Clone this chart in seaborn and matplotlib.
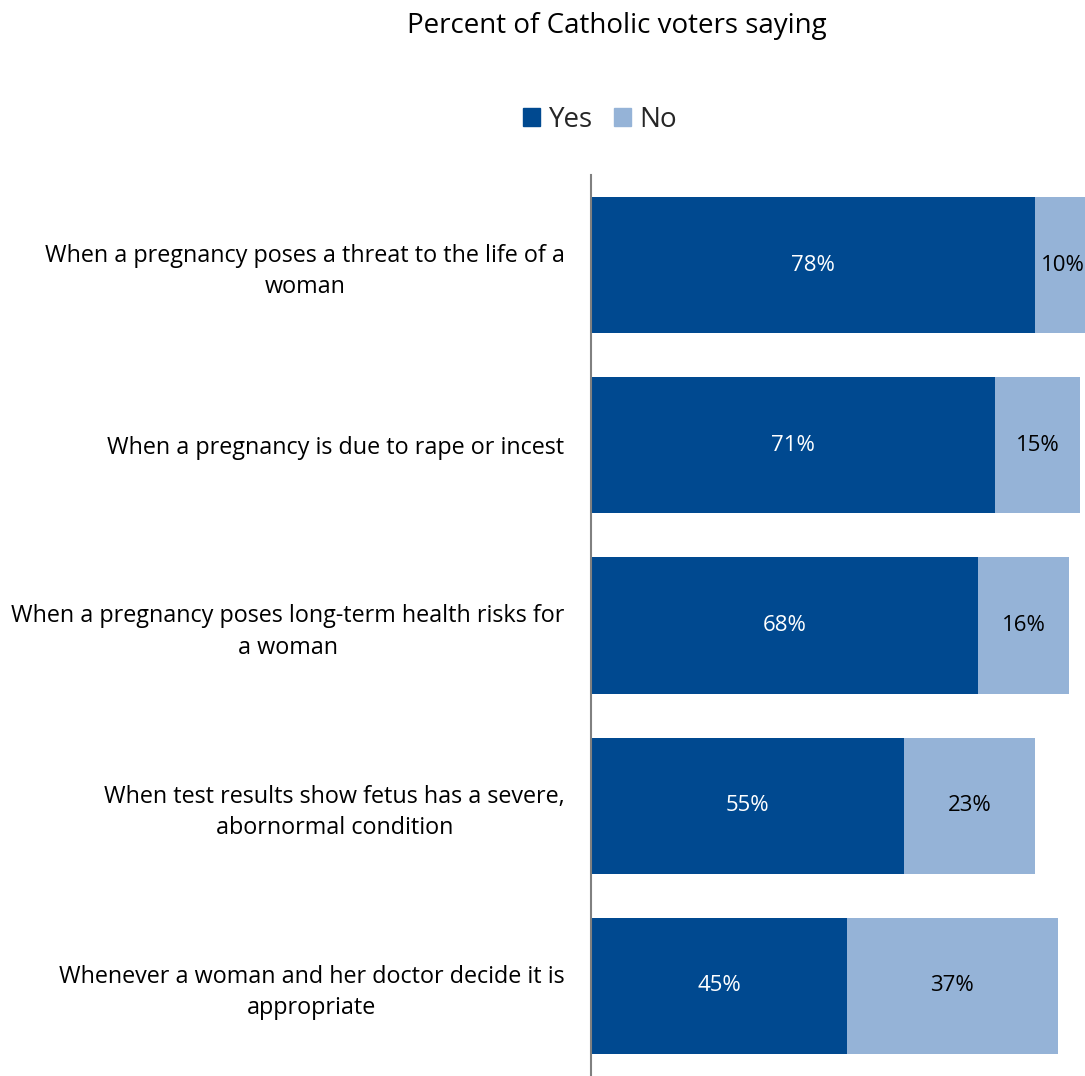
import matplotlib
matplotlib.use("Agg")
import matplotlib.pyplot as plt
import seaborn as sns
import pandas as pd
from matplotlib.patches import Patch

categories = [
    "When a pregnancy poses a threat to the life of a\nwoman",
    "When a pregnancy is due to rape or incest",
    "When a pregnancy poses long-term health risks for\na woman",
    "When test results show fetus has a severe,\nabornormal condition",
    "Whenever a woman and her doctor decide it is\nappropriate",
]
yes_vals = [78, 71, 68, 55, 45]
no_vals = [10, 15, 16, 23, 37]

df = pd.DataFrame({"cat": categories, "yes": yes_vals, "no": no_vals})
df["total"] = df["yes"] + df["no"]

YES_COLOR = "#004990"
NO_COLOR = "#95B3D7"

sns.set_style("white")
plt.rcParams["font.family"] = ["Open Sans", "DejaVu Sans"]

fig = plt.figure(figsize=(10.85, 10.76), dpi=100)
ax = fig.add_axes([591 / 1085, 0, 494 / 1085, 901 / 1076])

sns.barplot(data=df, x="total", y="cat", color=NO_COLOR, width=0.755,
            saturation=1, ax=ax, orient="h", linewidth=0)
sns.barplot(data=df, x="yes", y="cat", color=YES_COLOR, width=0.755,
            saturation=1, ax=ax, orient="h", linewidth=0)

for i, row in df.iterrows():
    ax.text(row["yes"] / 2, i, f"{row['yes']}%", ha="center", va="center",
            color="white", fontsize=16)
    ax.text(row["yes"] + row["no"] / 2, i, f"{row['no']}%", ha="center",
            va="center", color="black", fontsize=16)

ax.set_xlim(0, 494 / 5.69)
ax.set_ylim(4.5, -0.5)
ax.set_xlabel("")
ax.set_ylabel("")
ax.set_xticks([])
ax.set_yticks(range(len(categories)))
ax.set_yticklabels(categories, fontsize=16.8, color="black",
                   multialignment="center", linespacing=1.4)
ax.tick_params(axis="y", length=0, pad=19)
for s in ["top", "right", "bottom"]:
    ax.spines[s].set_visible(False)
ax.spines["left"].set_color("#808080")
ax.spines["left"].set_linewidth(1.5)

fig.text(617 / 1085, 1 - 26 / 1076, "Percent of Catholic voters saying",
         ha="center", va="center", fontsize=20, color="black")

handles = [Patch(color=YES_COLOR, label="Yes"), Patch(color=NO_COLOR, label="No")]
fig.legend(handles=handles, loc="center", bbox_to_anchor=(600 / 1085, 1 - 120 / 1076),
           ncol=2, frameon=False, fontsize=20, handlelength=0.62, handleheight=0.62,
           handletextpad=0.3, columnspacing=0.75)

fig.savefig("out.png", dpi=100)
